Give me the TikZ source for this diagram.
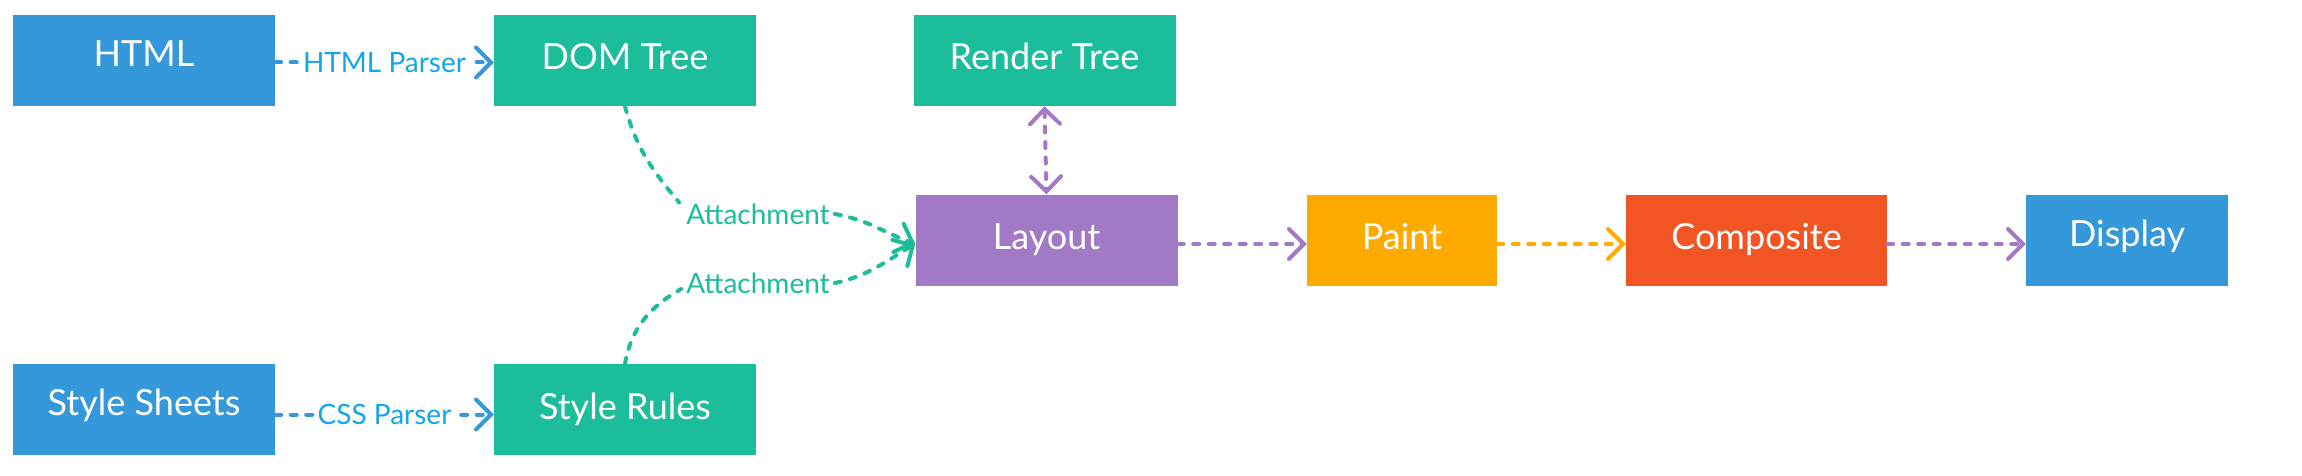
\documentclass[tikz,border=0pt]{standalone}
\usepackage{fontspec}
\setmainfont{Lato}
\usetikzlibrary{arrows.meta}
\definecolor{cblue}{HTML}{3598DB}
\definecolor{cgreen}{HTML}{1CBD9B}
\definecolor{cpurple}{HTML}{A279C4}
\definecolor{corange}{HTML}{FFAA00}
\definecolor{cred}{HTML}{F05523}
\definecolor{clabel}{HTML}{14A5EB}
\begin{document}
\begin{tikzpicture}[x=1pt,y=1pt,
  box/.style={rectangle, inner sep=0pt, minimum height=91pt, text=white,
    font=\fontsize{36}{40}\selectfont, text height=26pt, text depth=7pt},
  bluebox/.style={box, fill=cblue, text depth=14pt},
  lbl/.style={fill=white, inner sep=3pt, font=\fontsize{28}{32}\selectfont},
  conn/.style={line width=4pt, line cap=round, dash pattern=on 6pt off 9.5pt,
    -{Straight Barb[length=15pt,width=30pt,line cap=round]}},
]
\useasboundingbox (0,0) rectangle (2302,475);
% boxes
\node[bluebox, minimum width=262pt] (html) at (144,414.5) {HTML};
\node[box, fill=cgreen, minimum width=262pt] (dom) at (625,414.5) {DOM Tree};
\node[box, fill=cgreen, minimum width=262pt] (render) at (1044.5,414.5) {Render Tree};
\node[box, fill=cpurple, minimum width=262pt] (layout) at (1046.5,235) {Layout};
\node[box, fill=corange, minimum width=190pt] (paint) at (1402,235) {Paint};
\node[box, fill=cred, minimum width=261pt] (composite) at (1756.5,235) {Composite};
\node[bluebox, minimum width=202pt] (display) at (2127,235) {Display};
\node[bluebox, minimum width=262pt] (sheets) at (144,65.5) {Style Sheets};
\node[box, fill=cgreen, minimum width=262pt] (rules) at (625,65.5) {Style Rules};
% parser connectors
\draw[conn, cblue] ([yshift=-2pt]html.east) -- node[lbl, text=clabel] (hp) {HTML Parser} ([yshift=-2pt]dom.west);
\draw[conn, cblue] ([yshift=-5pt]sheets.east) -- node[lbl, text=clabel] (cp) {CSS Parser} ([yshift=-5pt]rules.west);
% attachment labels
\node[lbl, text=cgreen, fill=none] (att1) at (758,261) {Attachment};
\node[lbl, text=cgreen, fill=none] (att2) at (758,192) {Attachment};
\draw[conn, cgreen, -] (dom.south) to[out=-75, in=130] ([xshift=-4pt,yshift=-2pt]att1.north west);
\draw[conn, cgreen] ([xshift=2pt]att1.east) to[out=-10, in=160] ([yshift=-4pt]layout.west);
\draw[conn, cgreen, -] (rules.north) to[out=80, in=-150] ([xshift=-2pt,yshift=-6pt]att2.west);
\draw[conn, cgreen] ([xshift=2pt]att2.east) to[out=12, in=-150] ([yshift=-4pt]layout.west);
% render tree <-> layout
\draw[conn, cpurple, {Straight Barb[length=15pt,width=30pt,line cap=round]}-{Straight Barb[length=15pt,width=30pt,line cap=round]}] (render.south) -- (layout.north);
% pipeline
\draw[conn, cpurple] ([yshift=-4pt]layout.east) -- ([yshift=-4pt]paint.west);
\draw[conn, corange] ([yshift=-4pt]paint.east) -- ([yshift=-4pt]composite.west);
\draw[conn, cpurple] ([yshift=-4pt]composite.east) -- ([yshift=-4pt]display.west);
\end{tikzpicture}
\end{document}
